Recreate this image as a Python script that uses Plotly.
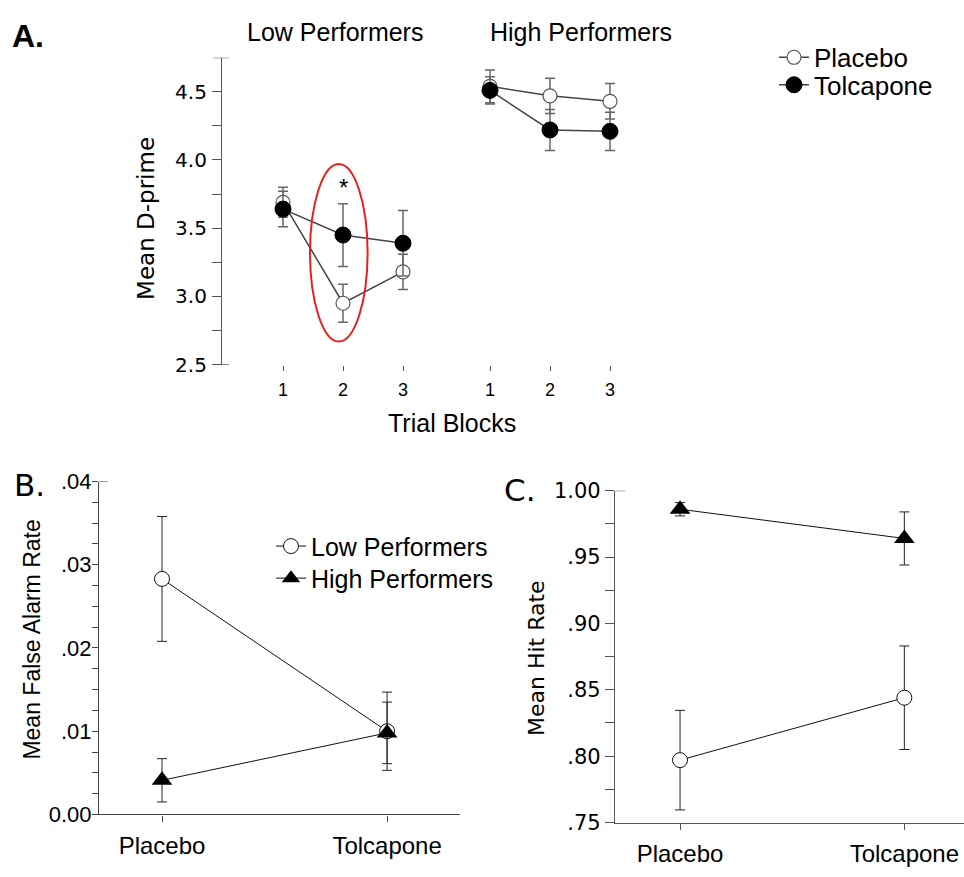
import plotly.graph_objects as go

W, H = 964, 877


def px(p):
    return p / W


def py(p):
    return 1 - p / H


# ---------------- Panel A data (Mean D-prime) ----------------
blocks = [1, 2, 3]
block_labels = ["1", "2", "3"]
low_placebo = [3.69, 2.95, 3.18]
low_placebo_err = [0.11, 0.14, 0.13]
low_tolcapone = [3.64, 3.45, 3.39]
low_tolcapone_err = [0.13, 0.23, 0.24]
high_placebo = [4.54, 4.47, 4.43]
high_placebo_err = [0.12, 0.13, 0.13]
high_tolcapone = [4.51, 4.22, 4.21]
high_tolcapone_err = [0.10, 0.15, 0.14]

# ---------------- Panel B data (Mean False Alarm Rate) ----------------
conditions = ["Placebo", "Tolcapone"]
fa_low = [0.0283, 0.0100]
fa_low_err = [0.0075, 0.0047]
fa_high = [0.0041, 0.0098]
fa_high_err = [0.0026, 0.0037]

# ---------------- Panel C data (Mean Hit Rate) ----------------
hit_low = [0.797, 0.844]
hit_low_err = [0.0375, 0.039]
hit_high = [0.986, 0.964]
hit_high_err = [0.005, 0.020]

A_y_ticks = [2.5, 3.0, 3.5, 4.0, 4.5]
B_y_ticks = [0.0, 0.01, 0.02, 0.03, 0.04]
B_y_labels = ["0.00", ".01", ".02", ".03", ".04"]
C_y_ticks = [0.75, 0.80, 0.85, 0.90, 0.95, 1.00]
C_y_labels = [".75", ".80", ".85", ".90", ".95", "1.00"]

HIGH_OFFSET = 3.45  # horizontal shift of the High Performers group on panel A

ARIAL = "Liberation Sans, Arial, sans-serif"
LUCIDA = "DejaVu Sans, sans-serif"

fig = go.Figure()

# ---- Panel A traces ----
open_marker = dict(symbol="circle", size=14, color="white", line=dict(color="#555", width=1.2))
filled_marker = dict(symbol="circle", size=16, color="black", line=dict(color="black", width=1))
errA = dict(color="#666", thickness=1.5, width=5)

groups = [(0, low_placebo, low_placebo_err, low_tolcapone, low_tolcapone_err, True),
          (HIGH_OFFSET, high_placebo, high_placebo_err, high_tolcapone, high_tolcapone_err, False)]
for off, pl, ple, tc, tce, show in groups:
    xs = [b + off for b in blocks]
    fig.add_trace(go.Scatter(
        x=xs, y=pl, mode="lines+markers", name="Placebo",
        line=dict(color="#444", width=1.5), marker=open_marker,
        error_y=dict(type="data", array=ple, visible=True, **errA),
        xaxis="x", yaxis="y", legend="legend", legendgroup="pl", showlegend=show))
    fig.add_trace(go.Scatter(
        x=xs, y=tc, mode="lines+markers", name="Tolcapone",
        line=dict(color="#444", width=1.5), marker=filled_marker,
        error_y=dict(type="data", array=tce, visible=True, **errA),
        xaxis="x", yaxis="y", legend="legend3", legendgroup="tc", showlegend=show))

# ---- Panel B traces ----
errB = dict(color="#222", thickness=1, width=5)
fig.add_trace(go.Scatter(
    x=conditions, y=fa_low, mode="lines+markers", name="Low Performers",
    line=dict(color="#111", width=1),
    marker=dict(symbol="circle", size=15, color="white", line=dict(color="#111", width=1)),
    error_y=dict(type="data", array=fa_low_err, visible=True, **errB),
    xaxis="x2", yaxis="y2", legend="legend2"))
fig.add_trace(go.Scatter(
    x=conditions, y=fa_high, mode="lines+markers", name="High Performers",
    line=dict(color="#111", width=1),
    marker=dict(symbol="triangle-up", size=18, color="black"),
    error_y=dict(type="data", array=fa_high_err, visible=True, **errB),
    xaxis="x2", yaxis="y2", legend="legend4"))

# ---- Panel C traces ----
fig.add_trace(go.Scatter(
    x=conditions, y=hit_high, mode="lines+markers", name="High Performers",
    line=dict(color="#111", width=1),
    marker=dict(symbol="triangle-up", size=18, color="black"),
    error_y=dict(type="data", array=hit_high_err, visible=True, **errB),
    xaxis="x3", yaxis="y3", showlegend=False))
fig.add_trace(go.Scatter(
    x=conditions, y=hit_low, mode="lines+markers", name="Low Performers",
    line=dict(color="#111", width=1),
    marker=dict(symbol="circle", size=15, color="white", line=dict(color="#111", width=1)),
    error_y=dict(type="data", array=hit_low_err, visible=True, **errB),
    xaxis="x3", yaxis="y3", showlegend=False))


def minor_vals(lo, hi, step):
    n = int(round((hi - lo) / step))
    return [round(lo + i * step, 6) for i in range(n + 1)]


def label_for(v, majors, labels):
    for t, lab in zip(majors, labels):
        if abs(t - v) < 1e-9:
            return lab
    return ""


A_vals = minor_vals(2.5, 4.5, 0.25)
A_text = [label_for(v, A_y_ticks, [f"{t:.1f}" for t in A_y_ticks]) for v in A_vals]
B_vals = minor_vals(0.0, 0.04, 0.0025)
B_text = [label_for(v, B_y_ticks, B_y_labels) for v in B_vals]
C_vals = minor_vals(0.75, 1.0, 0.025)
C_text = [label_for(v, C_y_ticks, C_y_labels) for v in C_vals]

x_a_vals = blocks + [b + HIGH_OFFSET for b in blocks]
x_a_text = block_labels + block_labels

fig.update_layout(
    width=W, height=H, margin=dict(l=0, r=0, t=0, b=0),
    paper_bgcolor="white", plot_bgcolor="white",
    font=dict(family=ARIAL, color="black"),
    xaxis=dict(domain=[px(222), px(700)], range=[-0.0167, -0.0167 + (700 - 222) / 60],
               showline=False, showgrid=False, zeroline=False,
               tickmode="array", tickvals=x_a_vals, ticktext=x_a_text,
               ticks="outside", ticklen=5, tickcolor="#555", tickwidth=1,
               tickfont=dict(family=ARIAL, size=18), ticklabelstandoff=4, anchor="y"),
    yaxis=dict(domain=[py(363), py(47)], range=[2.5, 4.75],
               showline=True, linecolor="#555", linewidth=1.2,
               showgrid=False, zeroline=False,
               tickmode="array", tickvals=A_vals, ticktext=A_text,
               ticks="outside", ticklen=9, tickcolor="#555", tickwidth=1,
               tickfont=dict(family=LUCIDA, size=20), ticklabelstandoff=1, anchor="x"),
    xaxis2=dict(domain=[px(99), px(460)], range=[-0.28, 1.324], type="category",
                showline=True, linecolor="#444", linewidth=1.2,
                showgrid=False, zeroline=False,
                ticks="outside", ticklen=6, tickcolor="#444",
                tickfont=dict(family=ARIAL, size=24), ticklabelstandoff=4, anchor="y2"),
    yaxis2=dict(domain=[py(826), py(483.3)], range=[0, 0.04],
                showline=True, linecolor="#444", linewidth=1.2,
                showgrid=False, zeroline=False,
                tickmode="array", tickvals=B_vals, ticktext=B_text,
                ticks="outside", ticklen=6, tickcolor="#444",
                tickfont=dict(family=ARIAL, size=22), ticklabelstandoff=-4, anchor="x2"),
    xaxis3=dict(domain=[px(615), 1.0], range=[-0.29, 1.266], type="category",
                showline=True, linecolor="#555", linewidth=1.2,
                showgrid=False, zeroline=False,
                ticks="outside", ticklen=6, tickcolor="#555",
                tickfont=dict(family=ARIAL, size=24), ticklabelstandoff=4, anchor="y3"),
    yaxis3=dict(domain=[py(834.3), py(492.7)], range=[0.75, 1.0],
                showline=True, linecolor="#555", linewidth=1.2,
                showgrid=False, zeroline=False,
                tickmode="array", tickvals=C_vals, ticktext=C_text,
                ticks="outside", ticklen=9, tickcolor="#555",
                tickfont=dict(family=LUCIDA, size=21), anchor="x3"),
    legend=dict(x=px(774), y=py(46.7), xanchor="left", yanchor="middle",
                font=dict(family=ARIAL, size=26), bgcolor="rgba(0,0,0,0)"),
    legend3=dict(x=px(774), y=py(75), xanchor="left", yanchor="middle",
                 font=dict(family=ARIAL, size=26), bgcolor="rgba(0,0,0,0)"),
    legend2=dict(x=px(271), y=py(550), xanchor="left", yanchor="middle",
                 font=dict(family=ARIAL, size=25), bgcolor="rgba(0,0,0,0)"),
    legend4=dict(x=px(271), y=py(583), xanchor="left", yanchor="middle",
                 font=dict(family=ARIAL, size=25), bgcolor="rgba(0,0,0,0)"),
)

shapes = [
    # red ellipse around block 2 of low performers
    dict(type="circle", xref="x", yref="y", x0=1.45, x1=2.41, y0=2.67, y1=3.97,
         line=dict(color="#e8201c", width=2)),
    # axis end caps
    dict(type="line", xref="paper", yref="y", x0=px(213), x1=px(229), y0=4.75, y1=4.75,
         line=dict(color="#555", width=1.2)),
    dict(type="line", xref="paper", yref="y", x0=px(212), x1=px(229), y0=2.5, y1=2.5,
         line=dict(color="#555", width=1.2)),
    dict(type="line", xref="paper", yref="y2", x0=px(99), x1=px(108), y0=0.04, y1=0.04,
         line=dict(color="#444", width=1.2)),
    dict(type="line", xref="paper", yref="y3", x0=px(615), x1=px(625), y0=1.0, y1=1.0,
         line=dict(color="#555", width=1.2)),
]
fig.update_layout(shapes=shapes)

ann = [
    dict(text="<b>A.</b>", x=px(28), y=py(25), font=dict(family=ARIAL, size=32)),
    dict(text="Low Performers", x=px(335), y=py(21), font=dict(family=ARIAL, size=25)),
    dict(text="High Performers", x=px(581), y=py(21), font=dict(family=ARIAL, size=25)),
    dict(text="Trial Blocks", x=px(452), y=py(423), font=dict(family=ARIAL, size=25)),
    dict(text="Mean D-prime", x=px(146), y=py(213), textangle=-90, font=dict(family=LUCIDA, size=23)),
    dict(text="B.", x=px(29), y=py(487), font=dict(family=LUCIDA, size=31)),
    dict(text="Mean False Alarm Rate", x=px(32), y=py(646), textangle=-90, font=dict(family=ARIAL, size=23)),
    dict(text="C.", x=px(520), y=py(492), font=dict(family=LUCIDA, size=31)),
    dict(text="Mean Hit Rate", x=px(536), y=py(665), textangle=-90, font=dict(family=LUCIDA, size=22)),
]
annotations = []
for a in ann:
    a.update(xref="paper", yref="paper", xanchor="center", yanchor="middle", showarrow=False)
    annotations.append(a)
annotations.append(dict(text="*", x=2, y=3.80, xref="x", yref="y", showarrow=False,
                        xanchor="center", yanchor="middle", font=dict(family=ARIAL, size=24)))
fig.update_layout(annotations=annotations)

fig.write_html("out.html")
